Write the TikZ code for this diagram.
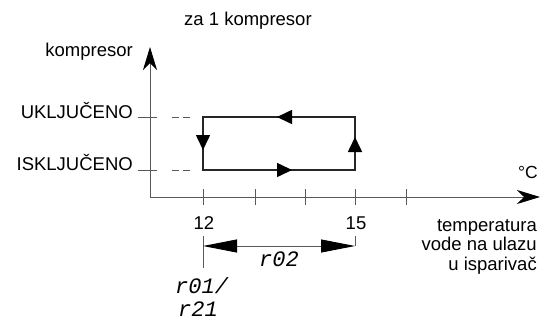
\documentclass[tikz,border=0pt]{standalone}
\usepackage{fontspec}
\setmainfont{Liberation Sans}
\newfontfamily\segfont{Liberation Mono}
\usepackage{tikz}
\usetikzlibrary{arrows,arrows.meta}

\begin{document}
\begin{tikzpicture}[x=1pt, y=-1pt, inner sep=0pt, font=\fontsize{18.5}{19.5}\selectfont]
    \tikzstyle{axis}=[draw=black!65, line width=0.9pt]
    \tikzstyle{ax arrow}=[axis, -{Stealth[length=23pt,width=14pt,inset=7pt,color=black]}]
    \tikzstyle{hyst}=[draw=black!85, line width=1.6pt]
    \tikzstyle{dir}=[hyst, -{Triangle[length=15pt,width=14pt,color=black]}]
    \tikzstyle{span}=[axis, {Triangle[length=34pt,width=13pt,color=black]}-{Triangle[length=34pt,width=13pt,color=black]}]
    \tikzstyle{seg}=[font=\segfont\itshape\fontsize{22}{24}\selectfont]

    \useasboundingbox (0,0) rectangle (554,324);

    % axes
    \coordinate (O) at (150,197);
    \coordinate (ytop) at (150,47);
    \coordinate (xend) at (540,197);
    \draw[ax arrow] (O) -- (ytop);
    \draw[ax arrow] (O) -- (xend);

    \foreach \x in {203,255,305,355,406}
        \draw[axis] (\x,189) -- (\x,205);
    \foreach \y in {117,170} {
        \draw[axis] (138,\y) -- (157,\y);
        \draw[axis, dash pattern=on 7pt off 4pt] (172,\y) -- (190,\y);
    }

    % hysteresis loop
    \coordinate (A) at (203,170);
    \coordinate (B) at (355,170);
    \coordinate (C) at (355,117);
    \coordinate (D) at (203,117);
    \coordinate (AB) at (292,170);
    \coordinate (BC) at (355,137);
    \coordinate (CD) at (277,117);
    \coordinate (DA) at (203,150);
    \draw[hyst] (A) -- (B) -- (C) -- (D) -- cycle;
    \draw[dir] (A) -- (AB);
    \draw[dir] (B) -- (BC);
    \draw[dir] (C) -- (CD);
    \draw[dir] (D) -- (DA);

    % labels
    \node[anchor=base west] (title) at (184,25) {za 1 kompresor};
    \node[anchor=base east] (ylbl) at (133,56) {kompresor};
    \node[anchor=base east] (on) at (133,118) {UKLJUČENO};
    \node[anchor=base east] (off) at (133,170) {ISKLJUČENO};
    \node[anchor=base east, font=\fontsize{17.5}{18}\selectfont] (unit) at (538,178) {°C};
    \node[anchor=base] (t12) at (204,229) {12};
    \node[anchor=base] (t15) at (356,229) {15};
    \node[align=right, anchor=north east] (xlbl) at (537,219) {temperatura\\vode na ulazu\\u isparivač};

    % set points
    \coordinate (s1) at (203,246);
    \coordinate (s2) at (355,246);
    \coordinate (s1top) at (203,236);
    \coordinate (s1bot) at (203,268);
    \coordinate (s2top) at (355,236);
    \draw[axis] (s1top) -- (s1bot);
    \draw[axis] (s2top) -- (s2);
    \draw[span] (s1) -- (s2);
    \node[seg] (r02) at (279,259) {r02};
    \node[seg, anchor=west] (r01) at (175,286) {r01/};
    \node[seg, anchor=west] (r21) at (178,309) {r21};
\end{tikzpicture}
\end{document}
